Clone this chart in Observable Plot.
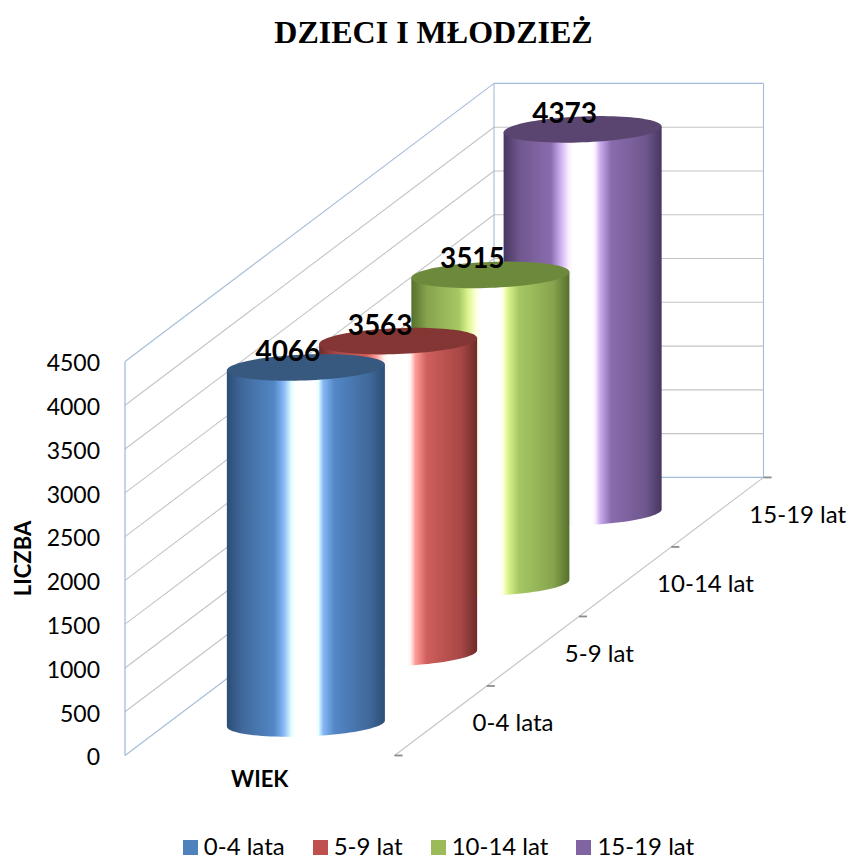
<!DOCTYPE html>
<html>
<head>
<meta charset="utf-8">
<script src="https://cdn.jsdelivr.net/npm/d3@7"></script>
<script src="https://cdn.jsdelivr.net/npm/@observablehq/plot@0.6"></script>
<style>
  html, body { margin: 0; padding: 0; background: #fff; overflow: hidden; }
  #title { height: 60px; margin: 0; padding-left: 20px; text-align: center;
           font: bold 32px/64px "Liberation Serif", serif; color: #000; }
  #chart svg { display: block; }
  #legend { display: flex; justify-content: center; gap: 28px; padding-left: 30px; height: 29px;
            font: 24px/29px Lato, sans-serif; color: #000; }
  #legend span.item { display: flex; align-items: center; gap: 6px; white-space: nowrap; }
  #legend i { display: block; width: 15px; height: 15px; transform: translateY(2px); }
</style>
</head>
<body>
<h1 id="title"></h1>
<div id="chart"></div>
<div id="legend"></div>
<script>
const titleText = "DZIECI I MŁODZIEŻ";
const categories = ["0-4 lata", "5-9 lat", "10-14 lat", "15-19 lat"];
const values = [4066, 3563, 3515, 4373];
const colors = ["#4f81bd", "#c0504d", "#9bbb59", "#8064a2"];
const capColors = ["#37597f", "#843635", "#6d8a3c", "#59456f"];
const shades = [
  ["#2c4d75", "#40699b", "#5387c6", "#86b8f6", "#e5ffff"],
  ["#6e2b29", "#a64745", "#cf5f5c", "#ff9b97", "#fff0ef"],
  ["#55702b", "#87a34e", "#a6c863", "#dcf58f", "#ffffe0"],
  ["#47365f", "#6f578e", "#8a6cae", "#caaeee", "#fbecff"]
];
const yTicks = [0, 500, 1000, 1500, 2000, 2500, 3000, 3500, 4000, 4500];
const yLabel = "LICZBA";
const xLabel = "WIEK";

// Oblique projection: depth is expressed in lateral units (x) and value units (y)
const topOffset = 60;
const yMax = 4500;
const depths = categories.length;
const depthX = 0.3423, depthV = 794;       // walls and floor
const seatX = 0.3423, seatV = 804, seatV0 = -36; // where the cylinders stand
const radiusX = 0.2932, radiusV = 148, tiltV = 34;

const wx = (lat, d) => lat + d * depthX;
const wy = (v, d) => v + d * depthV;
const cx = (d) => 0.5 + d * seatX;
const cy = (v, d) => v + seatV0 + d * seatV;

const blue = "#a5bcd9", gray = "#c4c4c4";
const segs = [];
for (const v of yTicks) {
  const edge = v === 0 || v === yMax;
  segs.push({a: [0, 0, v], b: [0, depths, v], c: edge ? blue : gray});
  segs.push({a: [0, depths, v], b: [1, depths, v], c: edge ? blue : gray});
}
segs.push({a: [0, 0, 0], b: [0, 0, yMax], c: "#8fb0d8"});
segs.push({a: [0, depths, 0], b: [0, depths, yMax], c: blue});
segs.push({a: [1, depths, 0], b: [1, depths, yMax], c: blue});
segs.push({a: [1, 0, 0], b: [1, depths, 0], c: gray});

const tickList = d3.range(depths + 1);

const cylinders = categories.map((name, i) => ({name, i, value: values[i], d: i + 0.5}));

function sidePolygon(c) {
  const pts = [];
  for (let k = 0; k <= 48; k++) {
    const t = Math.PI + k / 48 * Math.PI;
    pts.push({u: cx(c.d) + radiusX * Math.cos(t),
              w: cy(0, c.d) + radiusV * Math.sin(t) + tiltV * Math.cos(t)});
  }
  pts.push({u: cx(c.d) + radiusX, w: cy(c.value, c.d) + tiltV});
  pts.push({u: cx(c.d) - radiusX, w: cy(c.value, c.d) - tiltV});
  pts.push(pts[0]);
  return pts;
}
function capPolygon(c) {
  const pts = [];
  for (let k = 0; k <= 96; k++) {
    const t = k / 96 * 2 * Math.PI;
    pts.push({u: cx(c.d) + radiusX * Math.cos(t),
              w: cy(c.value, c.d) + radiusV * Math.sin(t) + tiltV * Math.cos(t)});
  }
  return pts;
}

function defsMark() {
  const defs = d3.create("svg:defs");
  shades.forEach((s, i) => {
    const g = defs.append("linearGradient").attr("id", "cyl" + i);
    const stops = [[0, s[0]], [.1, s[1]], [.3, s[2]], [.36, s[3]], [.41, s[4]], [.44, "#fff"],
                   [.56, "#fff"], [.58, s[4]], [.61, s[3]], [.68, s[2]], [.9, s[1]], [1, s[0]]];
    for (const [o, col] of stops) g.append("stop").attr("offset", o).attr("stop-color", col);
  });
  return defs.node();
}

const cylMarks = [];
for (const c of [...cylinders].reverse()) {
  cylMarks.push(Plot.line(sidePolygon(c), {x: "u", y: "w", fill: `url(#cyl${c.i})`, stroke: "none"}));
  cylMarks.push(Plot.line(capPolygon(c), {x: "u", y: "w", fill: capColors[c.i], stroke: "none"}));
}

const plot = Plot.plot({
  width: 847,
  height: 771,
  marginLeft: 124.5, marginRight: 0, marginTop: 0, marginBottom: 0,
  style: {fontFamily: "Lato, sans-serif", background: "#fff", overflow: "visible"},
  x: {type: "linear", domain: [0, 1], range: [124.5, 394], axis: null},
  y: {type: "linear", domain: [0, yMax], range: [755 - topOffset, 361 - topOffset], axis: null},
  marks: [
    defsMark,
    Plot.link(segs, {
      x1: s => wx(s.a[0], s.a[1]), y1: s => wy(s.a[2], s.a[1]),
      x2: s => wx(s.b[0], s.b[1]), y2: s => wy(s.b[2], s.b[1]),
      stroke: s => s.c, strokeWidth: 1.1
    }),
    Plot.link(tickList, {
      x1: d => wx(1, d), y1: d => wy(0, d),
      x2: d => wx(1.03, d), y2: d => wy(0, d),
      stroke: "#8c8c8c", strokeWidth: 1.8
    }),
    Plot.axisY({ticks: yTicks, tickSize: 0, tickPadding: 25, dy: 2.5, fontSize: 23, label: null, tickFormat: d => String(d), stroke: "none", fill: "#000"}),
    Plot.text(categories, {
      x: (_, i) => wx(1, i + 0.5), y: (_, i) => wy(0, i + 0.5), text: d => d,
      textAnchor: "start", dx: 32, dy: 3, fontSize: 24, fill: "#000"
    }),
    ...cylMarks,
    Plot.text(cylinders, {
      x: c => cx(c.d), y: c => cy(c.value, c.d), text: c => String(c.value),
      dx: -18, dy: -15.5, fontSize: 28, fontWeight: "bold", fill: "#000"
    }),
    Plot.text([xLabel], {x: [0.5], y: [0], text: d => d, dy: 24, fontSize: 22, fontWeight: "bold", fill: "#000"}),
    Plot.text([yLabel], {x: [0], y: [2250], text: d => d, dx: -101, dy: 0, rotate: -90, fontSize: 22, fontWeight: "bold", fill: "#000"})
  ]
});
document.getElementById("title").textContent = titleText;
document.getElementById("chart").append(plot);
const legend = d3.select("#legend");
categories.forEach((name, i) => {
  const it = legend.append("span").attr("class", "item");
  it.append("i").style("background", colors[i]);
  it.append("span").text(name);
});
</script>
</body>
</html>
